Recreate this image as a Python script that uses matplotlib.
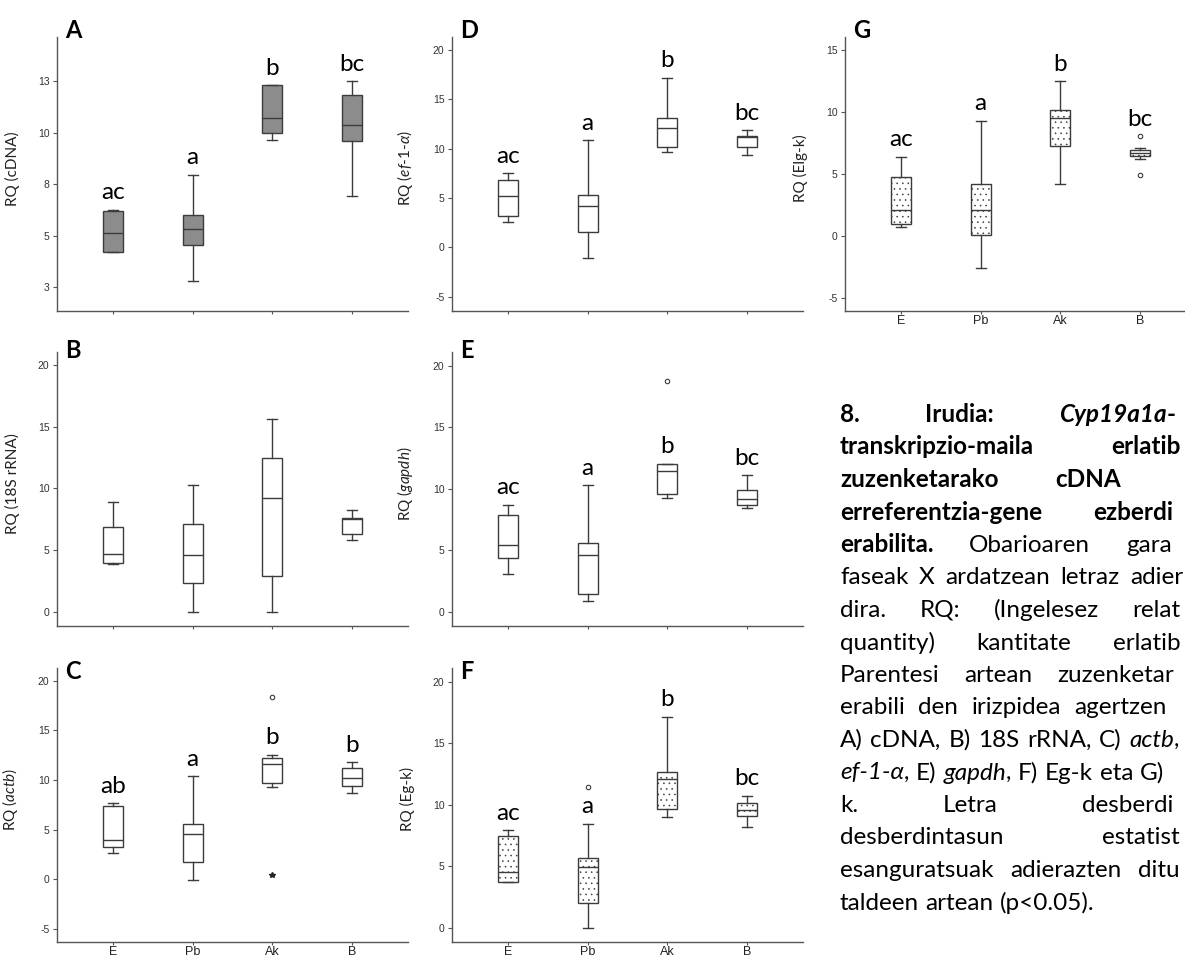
import matplotlib
matplotlib.use('Agg')
import matplotlib.pyplot as plt

groups = ['E', 'Pb', 'Ak', 'B']

# five-number summary per group: whisker low, Q1, median, Q3, whisker high
cdna_box = [[4.20, 4.21, 5.15, 6.20, 6.27],
            [2.79, 4.55, 5.33, 6.03, 7.97],
            [9.67, 9.99, 10.70, 12.29, 12.29],
            [6.92, 9.60, 10.36, 11.83, 12.50]]
rrna_box = [[3.91, 3.99, 4.72, 6.86, 8.93],
            [0.00, 2.35, 4.64, 7.13, 10.26],
            [0.00, 2.89, 9.20, 12.44, 15.63],
            [5.83, 6.29, 7.53, 7.58, 8.28]]
actb_box = [[2.62, 3.19, 3.90, 7.40, 7.68],
            [-0.14, 1.68, 4.54, 5.59, 10.40],
            [9.32, 9.70, 11.65, 12.18, 12.56],
            [8.72, 9.36, 10.16, 11.17, 11.78]]
ef1a_box = [[2.57, 3.14, 5.24, 6.83, 7.54],
            [-1.07, 1.56, 4.19, 5.34, 10.84],
            [9.66, 10.17, 12.10, 13.14, 17.16],
            [9.36, 10.17, 11.15, 11.32, 11.85]]
gapdh_box = [[3.09, 4.39, 5.45, 7.86, 8.70],
             [0.89, 1.44, 4.58, 5.58, 10.27],
             [9.24, 9.54, 11.46, 12.03, 12.03],
             [8.43, 8.70, 9.19, 9.89, 11.08]]
egk_box = [[3.70, 3.70, 4.54, 7.43, 7.92],
           [0.00, 2.03, 4.97, 5.70, 8.46],
           [9.00, 9.65, 12.08, 12.65, 17.16],
           [8.19, 9.08, 9.57, 10.11, 10.75]]
elgk_box = [[0.70, 0.97, 2.10, 4.71, 6.38],
            [-2.59, 0.02, 2.10, 4.17, 9.30],
            [4.17, 7.27, 9.48, 10.13, 12.50],
            [6.19, 6.41, 6.65, 6.90, 7.08]]

# outliers (circles) and extreme values (stars)
no_out = [[], [], [], []]
actb_out = [[], [], [18.35], []]
actb_extreme = [[], [], [0.43], []]
gapdh_out = [[], [], [18.78], []]
egk_out = [[], [11.43], [], []]
elgk_out = [[], [], [], [8.03, 4.93]]

# significance letters
cdna_letters = ['ac', 'a', 'b', 'bc']
rrna_letters = ['', '', '', '']
actb_letters = ['ab', 'a', 'b', 'b']
ef1a_letters = ['ac', 'a', 'b', 'bc']
gapdh_letters = ['ac', 'a', 'b', 'bc']
egk_letters = ['ac', 'a', 'b', 'bc']
elgk_letters = ['ac', 'a', 'b', 'bc']

# y ticks (panel A labels are rounded in the original)
cdna_yticks = [2.5, 5, 7.5, 10, 12.5]
cdna_yticklabels = ['3', '5', '8', '10', '13']
ticks_0_20 = [0, 5, 10, 15, 20]
ticks_m5_20 = [-5, 0, 5, 10, 15, 20]
ticks_m5_15 = [-5, 0, 5, 10, 15]

plt.rcParams['mathtext.fontset'] = 'custom'
plt.rcParams['mathtext.rm'] = 'Lato'
plt.rcParams['mathtext.it'] = 'Lato:italic'
plt.rcParams['hatch.color'] = '#707070'
plt.rcParams['hatch.linewidth'] = 0.4

W, H = 1185, 960
fig = plt.figure(figsize=(W / 100, H / 100), dpi=100)

edge = '#3c3c3c'
axc = '#555555'
col_left = [57, 452, 845]
row_top = [37, 352, 668]
letter_top = [19, 339, 660]
ax_w, ax_h = 351, 273.5

panels = [
    ('A', 0, 0, 'RQ (cDNA)', cdna_box, no_out, no_out, cdna_letters,
     cdna_yticks, cdna_yticklabels, (1.38, 14.64), '#8c8c8c', None, False),
    ('B', 0, 1, 'RQ (18S rRNA)', rrna_box, no_out, no_out, rrna_letters,
     ticks_0_20, None, (-1.1, 21.05), 'white', None, False),
    ('C', 0, 2, 'RQ ($\\mathit{actb}$)', actb_box, actb_out, actb_extreme, actb_letters,
     ticks_m5_20, None, (-6.3, 21.3), 'white', None, True),
    ('D', 1, 0, 'RQ ($\\mathit{ef}$-$\\mathit{1}$-$\\mathit{\\alpha}$)', ef1a_box, no_out, no_out, ef1a_letters,
     ticks_m5_20, None, (-6.38, 21.3), 'white', None, False),
    ('E', 1, 1, 'RQ ($\\mathit{gapdh}$)', gapdh_box, gapdh_out, no_out, gapdh_letters,
     ticks_0_20, None, (-1.11, 21.1), 'white', None, False),
    ('F', 1, 2, 'RQ (Eg-k)', egk_box, egk_out, no_out, egk_letters,
     ticks_0_20, None, (-1.09, 21.1), 'white', '...', True),
    ('G', 2, 0, 'RQ (Elg-k)', elgk_box, elgk_out, no_out, elgk_letters,
     ticks_m5_15, None, (-6.04, 16.05), 'white', '...', True),
]

for (tag, col, row, ylabel, box, out, extreme, letters,
     yticks, yticklabels, ylim, face, hatch, show_x) in panels:
    x0 = col_left[col]
    y0 = row_top[row]
    ax = fig.add_axes([x0 / W, 1 - (y0 + ax_h) / H, ax_w / W, ax_h / H])

    stats = []
    for (lo, q1, med, q3, hi), fl in zip(box, out):
        stats.append(dict(whislo=lo, q1=q1, med=med, q3=q3, whishi=hi, fliers=fl))
    art = ax.bxp(stats, positions=[1, 2, 3, 4], widths=0.25, capwidths=0.125,
                 patch_artist=True,
                 boxprops=dict(facecolor=face, edgecolor=edge, linewidth=1.0),
                 medianprops=dict(color=edge, linewidth=1.0),
                 whiskerprops=dict(color=edge, linewidth=1.0),
                 capprops=dict(color=edge, linewidth=1.0),
                 flierprops=dict(marker='o', markersize=3.2, markerfacecolor='white',
                                 markeredgecolor=edge, markeredgewidth=0.8, linestyle='none'))
    if hatch:
        for b in art['boxes']:
            b.set_hatch(hatch)

    for i, ext in enumerate(extreme):
        if ext:
            ax.plot([i + 1] * len(ext), ext, ls='none', marker='*', ms=4, color='#222222')

    for i, s in enumerate(letters):
        if not s:
            continue
        top = box[i][4]
        near = [v for v in out[i] if top < v < top + 2]
        if near:
            top = max(near)
        ax.annotate(s, (i + 1, top), xytext=(0, 7.5), textcoords='offset points',
                    ha='center', va='baseline', fontsize=17.5, family='Lato', color='black')

    ax.set_xlim(0.3, 4.7)
    ax.set_ylim(*ylim)
    ax.set_xticks([1, 2, 3, 4])
    ax.set_xticklabels(groups if show_x else [], fontsize=9, family='Liberation Sans', color='#222222')
    ax.set_yticks(yticks)
    ax.set_yticklabels(yticklabels if yticklabels else [str(t) for t in yticks],
                       fontsize=7.5, family='Liberation Sans', color='#333333')
    ax.tick_params(direction='out', length=3, width=0.8, color=axc, pad=2.5)
    ax.tick_params(axis='x', length=2.5, pad=1)
    for s in ['top', 'right']:
        ax.spines[s].set_visible(False)
    for s in ['left', 'bottom']:
        ax.spines[s].set_color(axc)
        ax.spines[s].set_linewidth(1.0)
    ax.set_ylabel(ylabel, fontsize=11, family='Lato', color='#222222')
    ax.yaxis.set_label_coords(-0.105, 0.52)

    fig.text((x0 + 8) / W, 1 - letter_top[row] / H, tag, fontsize=17, weight='bold',
             family='Lato', va='top', ha='left')

# caption, justified like the original; the page edge cuts its right side
caption = [
    [[('8.', 'b')], [('Irudia:', 'b')], [('Cyp19a1a', 'bi'), ('-ren', 'b')]],
    [[('transkripzio-maila', 'b')], [('erlatiboa,', 'b')]],
    [[('zuzenketarako', 'b')], [('cDNA', 'b')], [('eta', 'b')]],
    [[('erreferentzia-gene', 'b')], [('ezberdinak', 'b')]],
    [[('erabilita.', 'b')], [('Obarioaren', '')], [('garapen', '')]],
    [[('faseak', '')], [('X', '')], [('ardatzean', '')], [('letraz', '')], [('adierazi', '')]],
    [[('dira.', '')], [('RQ:', '')], [('(Ingelesez', '')], [('relative', '')]],
    [[('quantity)', '')], [('kantitate', '')], [('erlatiboa.', '')]],
    [[('Parentesi', '')], [('artean', '')], [('zuzenketarako', '')]],
    [[('erabili', '')], [('den', '')], [('irizpidea', '')], [('agertzen', '')], [('da:', '')]],
    [[('A)', '')], [('cDNA,', '')], [('B)', '')], [('18S', '')], [('rRNA,', '')], [('C)', '')],
     [('actb', 'i'), (',', '')], [('D)', '')]],
    [[('ef-1-α', 'i'), (',', '')], [('E)', '')], [('gapdh', 'i'), (',', '')], [('F)', '')],
     [('Eg-k', '')], [('eta', '')], [('G)', '')], [('Elg-', '')]],
    [[('k.', '')], [('Letra', '')], [('desberdinek', '')]],
    [[('desberdintasun', '')], [('estatistiko', '')]],
    [[('esanguratsuak', '')], [('adierazten', '')], [('dituzte', '')]],
    [[('taldeen', '')], [('artean', '')], [('(p<0.05).', '')]],
]

renderer = fig.canvas.get_renderer()
cap_left, cap_right = 840, 1212
cap_size = 17.5
space_w = 0.26 * cap_size * 100 / 72
for li, words in enumerate(caption):
    y = 1 - (422 + 32.5 * li) / H
    made = []
    widths = []
    for word in words:
        parts = []
        w = 0
        for txt, st in word:
            t = fig.text(0, y, txt, fontsize=cap_size, family=['Lato', 'DejaVu Sans'],
                         weight='bold' if 'b' in st else 'normal',
                         style='italic' if 'i' in st else 'normal',
                         va='baseline', ha='left', color='black')
            pw = t.get_window_extent(renderer).width
            parts.append((t, pw))
            w += pw
        made.append(parts)
        widths.append(w)
    last = li == len(caption) - 1
    if last or len(words) < 2:
        gap = space_w
    else:
        gap = max((cap_right - cap_left - sum(widths)) / (len(words) - 1), 0.8 * space_w)
    x = cap_left
    for parts, w in zip(made, widths):
        px = x
        for t, pw in parts:
            t.set_x(px / W)
            if px + pw > W - 1:
                # keep only the part of the word that is still on the page
                s = t.get_text()
                while s and px + t.get_window_extent(renderer).width > W - 1:
                    s = s[:-1]
                    t.set_text(s)
                if not s:
                    t.remove()
            px += pw
        x += w + gap

fig.savefig('out.png', dpi=100)
